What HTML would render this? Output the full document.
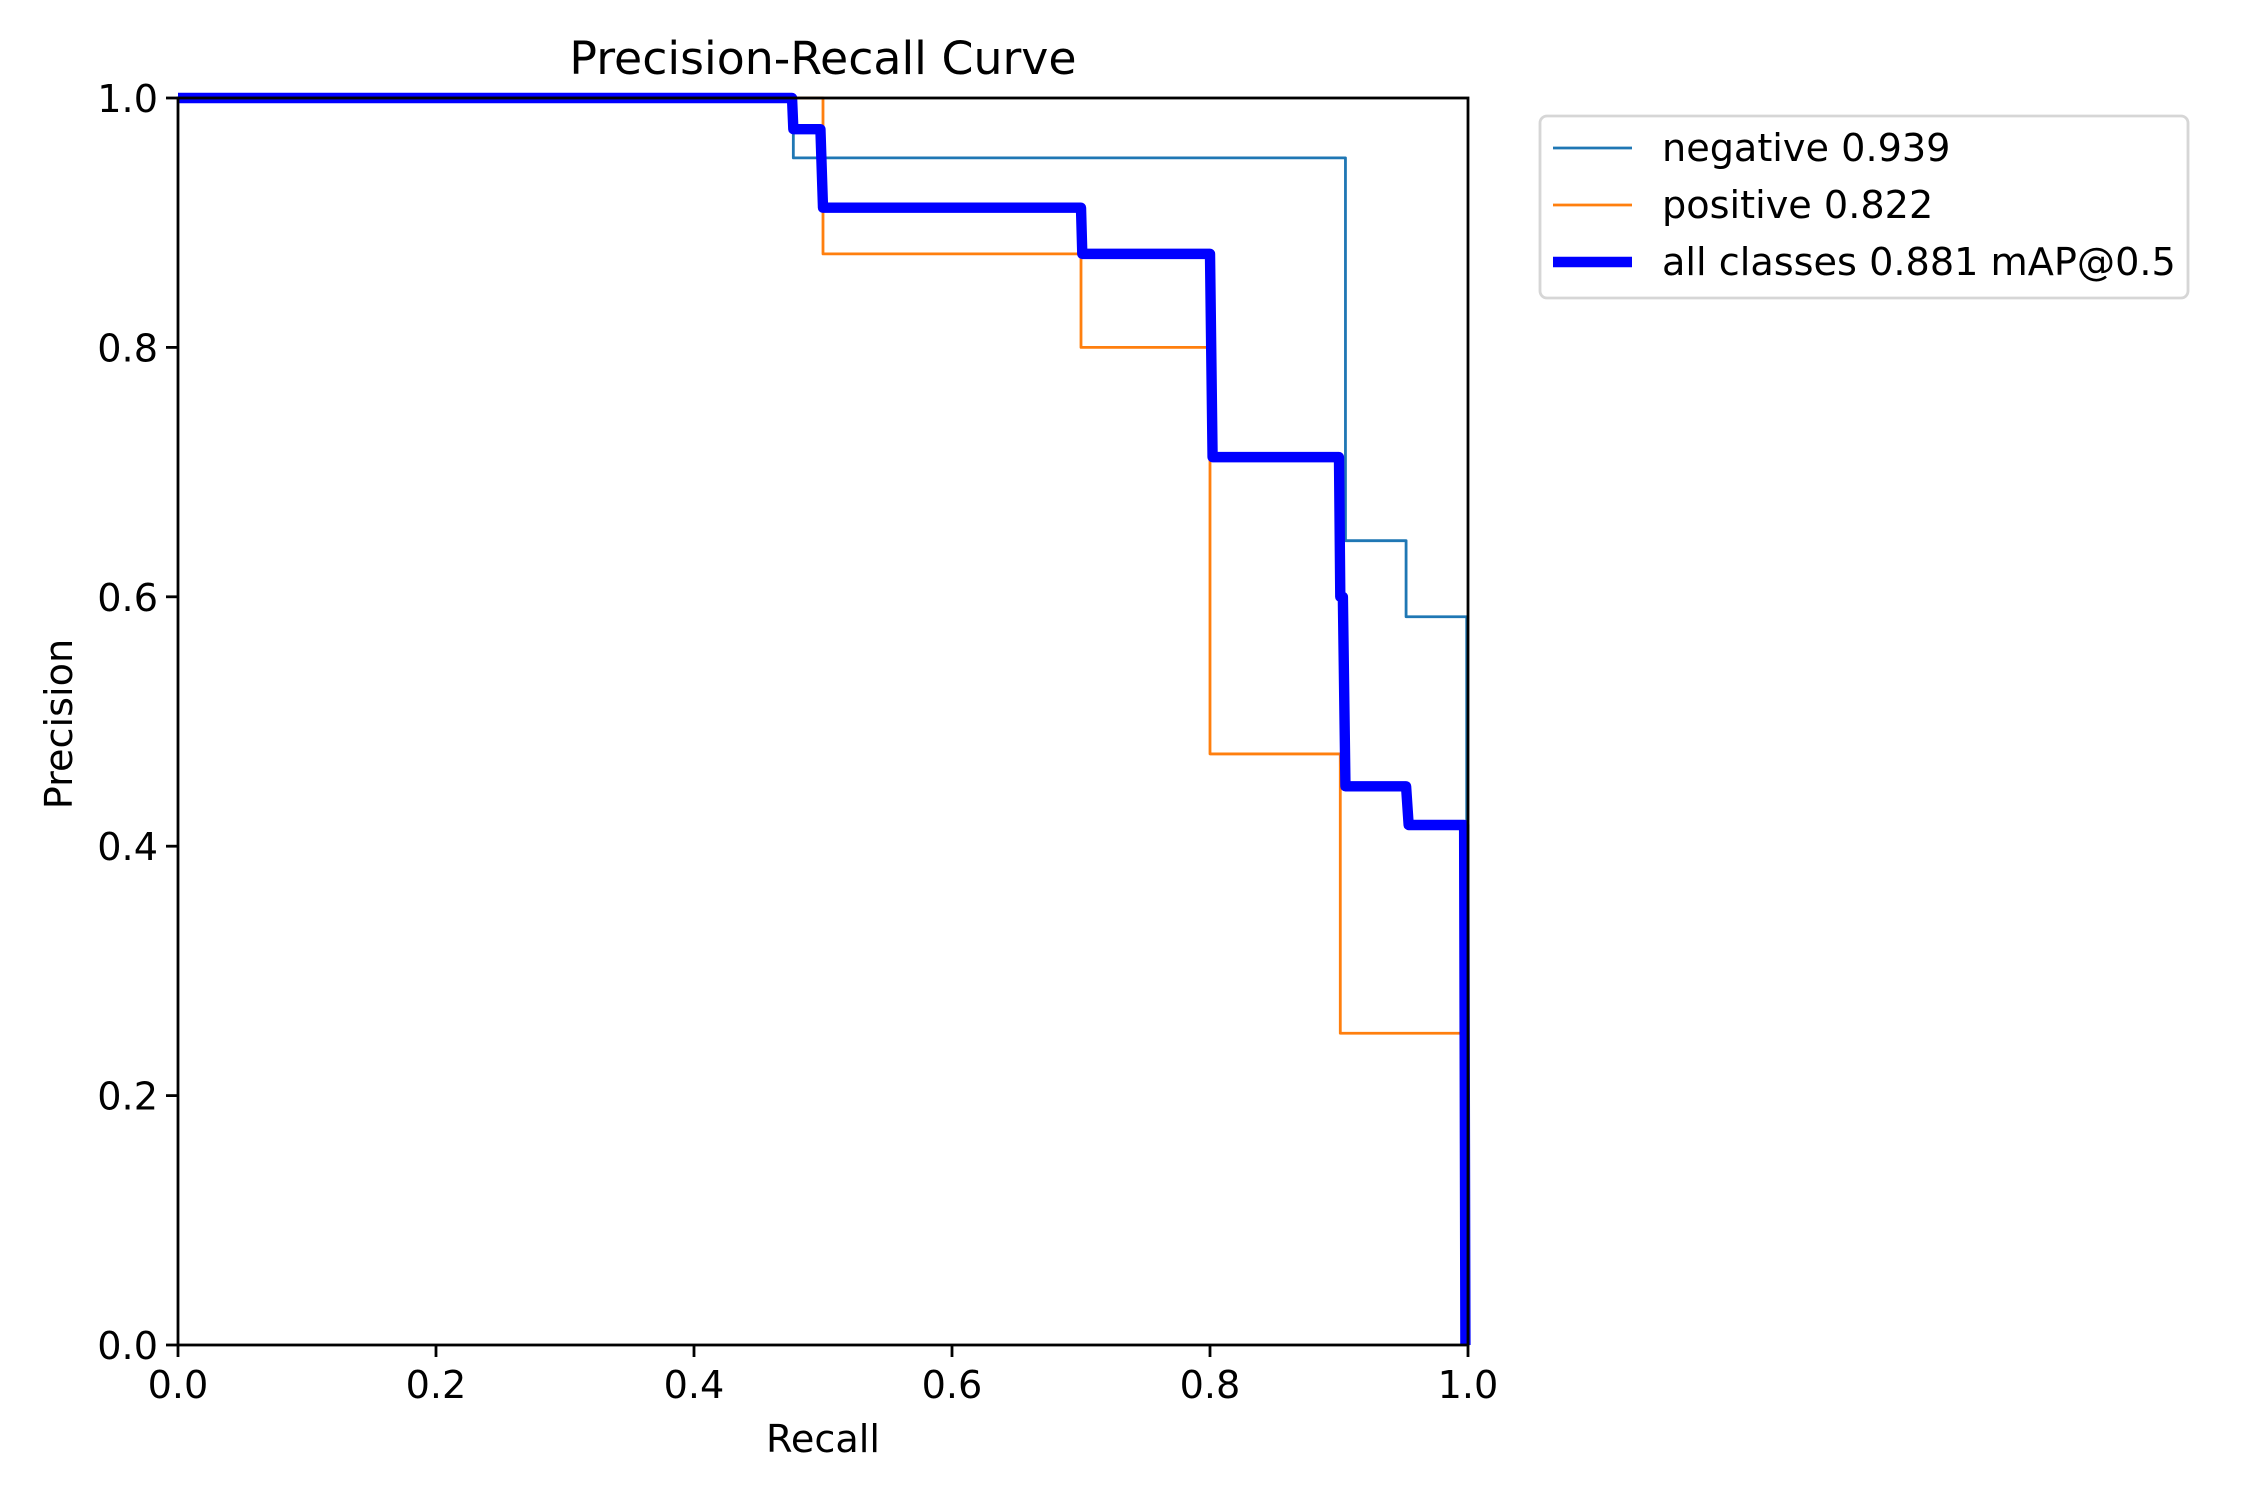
<!DOCTYPE html>
<html><head><meta charset="utf-8"><style>
html,body{margin:0;padding:0;background:#fff;}
svg{display:block;font-family:"DejaVu Sans","Liberation Sans",sans-serif;}
</style></head><body>
<svg id="chart" width="2250" height="1500" viewBox="0 0 2250 1500" xmlns="http://www.w3.org/2000/svg">
<rect width="2250" height="1500" fill="#fff"/>
<text x="823" y="74" font-size="45.8" text-anchor="middle">Precision-Recall Curve</text>
<g id="series"></g>
<rect x="178" y="98" width="1290" height="1247" fill="none" stroke="#000" stroke-width="2.8"/>
<g id="ticks"></g>
<text x="823" y="1452" font-size="38.2" text-anchor="middle">Recall</text>
<text x="72" y="724" font-size="38.2" text-anchor="middle" transform="rotate(-90 72 724)">Precision</text>
<g>
<rect x="1540" y="116" width="648" height="182" rx="7" fill="#fff" stroke="#d6d6d6" stroke-width="2.8"/>
<g><line x1="1553" y1="148" x2="1632" y2="148" stroke="#1f77b4" stroke-width="2.8"/><text x="1662" y="161" font-size="38.2">negative 0.939</text></g>
<g><line x1="1553" y1="205" x2="1632" y2="205" stroke="#ff7f0e" stroke-width="2.8"/><text x="1662" y="218" font-size="38.2">positive 0.822</text></g>
<g><line x1="1553" y1="262" x2="1632" y2="262" stroke="#0000ff" stroke-width="10.4"/><text x="1662" y="275" font-size="38.2">all classes 0.881 mAP@0.5</text></g>
</g>
</svg>
<script>
const xTicks = [0, 0.2, 0.4, 0.6, 0.8, 1.0];
const yTicks = [0, 0.2, 0.4, 0.6, 0.8, 1.0];
const tickLabels = ["0.0", "0.2", "0.4", "0.6", "0.8", "1.0"];
const negRecall = [0, 0.477, 0.477, 0.905, 0.905, 0.952, 0.952, 0.999, 0.999];
const negPrecision = [1.0, 1.0, 0.952, 0.952, 0.645, 0.645, 0.584, 0.584, 0.42];
const posRecall = [0, 0.5, 0.5, 0.7, 0.7, 0.8, 0.8, 0.901, 0.901, 0.999, 0.999];
const posPrecision = [1.0, 1.0, 0.875, 0.875, 0.8, 0.8, 0.474, 0.474, 0.25, 0.25, 0.0];
const allRecall = [0, 0.476, 0.477, 0.498, 0.5, 0.7, 0.701, 0.8, 0.802, 0.9, 0.901, 0.903, 0.905, 0.952, 0.954, 0.997, 0.998];
const allPrecision = [1.0, 1.0, 0.975, 0.975, 0.912, 0.912, 0.875, 0.875, 0.712, 0.712, 0.6, 0.6, 0.448, 0.448, 0.417, 0.417, 0.0];

const L = 178, T = 98, W = 1290, H = 1247;
function sx(v){ return L + v * W; }
function sy(v){ return T + H - v * H; }
const NS = "http://www.w3.org/2000/svg";
const series = document.getElementById('series');
function drawLine(xs, ys, color, w, name){
  const p = document.createElementNS(NS, 'polyline');
  
  
  p.setAttribute('points', xs.map((x,i)=>sx(x)+','+sy(ys[i])).join(' '));
  p.setAttribute('fill', 'none');
  p.setAttribute('stroke', color);
  p.setAttribute('stroke-width', w);
  p.setAttribute('stroke-linejoin', 'round');
  series.appendChild(p);
}
drawLine(negRecall, negPrecision, '#1f77b4', 2.8, 'negative-curve');
drawLine(posRecall, posPrecision, '#ff7f0e', 2.8, 'positive-curve');
drawLine(allRecall, allPrecision, '#0000ff', 10.4, 'all-classes-curve');

const ticks = document.getElementById('ticks');
xTicks.forEach((v,i)=>{
  const l = document.createElementNS(NS,'line');
  
  
  l.setAttribute('x1',sx(v)); l.setAttribute('x2',sx(v));
  l.setAttribute('y1',T+H); l.setAttribute('y2',T+H+12);
  l.setAttribute('stroke','#000'); l.setAttribute('stroke-width','2.8');
  ticks.appendChild(l);
  const t = document.createElementNS(NS,'text');
  
  
  t.setAttribute('x',sx(v)); t.setAttribute('y',T+H+53);
  t.setAttribute('font-size','38.2'); t.setAttribute('text-anchor','middle');
  t.textContent = tickLabels[i];
  ticks.appendChild(t);
});
yTicks.forEach((v,i)=>{
  const l = document.createElementNS(NS,'line');
  
  
  l.setAttribute('x1',L-12); l.setAttribute('x2',L);
  l.setAttribute('y1',sy(v)); l.setAttribute('y2',sy(v));
  l.setAttribute('stroke','#000'); l.setAttribute('stroke-width','2.8');
  ticks.appendChild(l);
  const t = document.createElementNS(NS,'text');
  
  
  t.setAttribute('x',L-20); t.setAttribute('y',sy(v)+14);
  t.setAttribute('font-size','38.2'); t.setAttribute('text-anchor','end');
  t.textContent = tickLabels[i];
  ticks.appendChild(t);
});
</script>
</body></html>
